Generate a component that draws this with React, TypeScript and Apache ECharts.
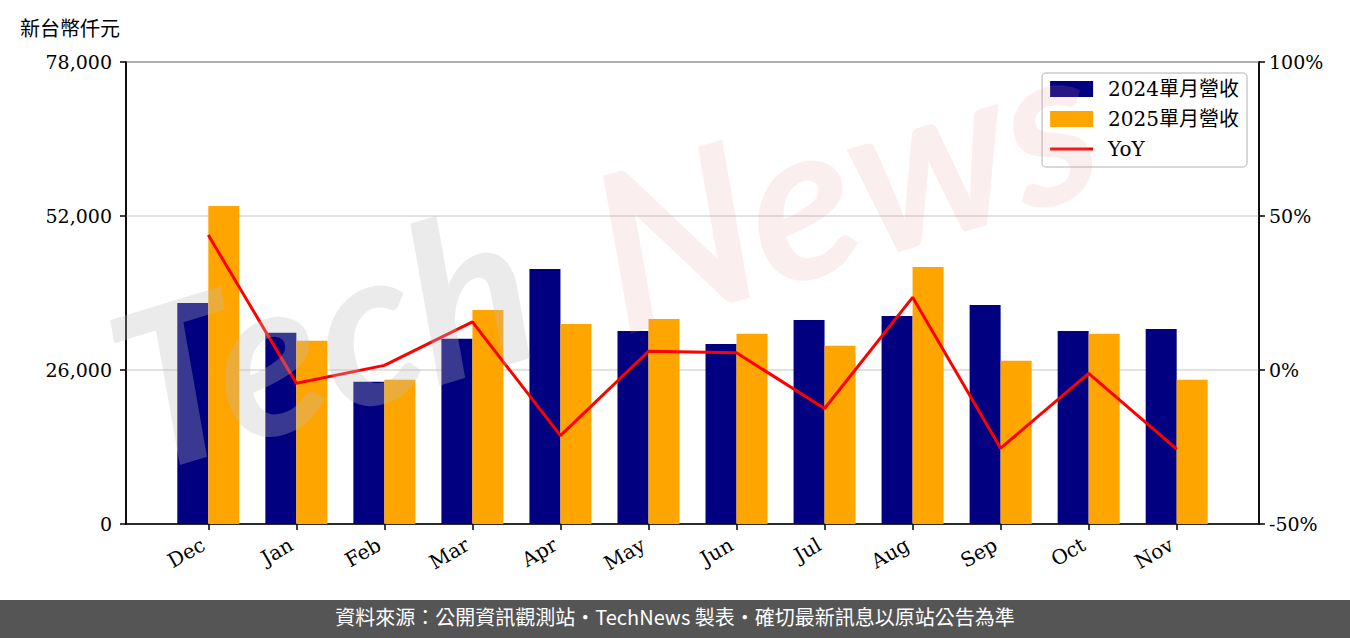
import React, { useEffect, useRef } from "react";
import * as echarts from "echarts";

const months = ["Dec", "Jan", "Feb", "Mar", "Apr", "May", "Jun", "Jul", "Aug", "Sep", "Oct", "Nov"];
const rev2024 = [37320, 32270, 24010, 31260, 43050, 32600, 30410, 34460, 35130, 36990, 32600, 32940];
const rev2025 = [53670, 30920, 24350, 36140, 33780, 34630, 32100, 30080, 43390, 27550, 32100, 24350];
const yoy = [43.8, -4.3, 1.5, 15.6, -21.3, 6.1, 5.6, -12.5, 23.6, -25.4, -1.1, -25.7];
const leftTicks = [0, 26000, 52000, 78000];
const rightTicks = [-50, 0, 50, 100];

const serif = "'DejaVu Serif', 'Noto Sans CJK TC', serif";

export default function App() {
  const ref = useRef<HTMLDivElement>(null);
  useEffect(() => {
    if (!ref.current) return;
    const chart = echarts.init(ref.current, null, { renderer: "svg" });
    const idx = months.map((_, i) => i);
    chart.setOption({
      animation: false,
      backgroundColor: "#ffffff",
      textStyle: { fontFamily: serif },
      grid: {
        left: 126, right: 91, top: 62, bottom: 114,
        show: true, borderColor: "#000", borderWidth: 1.5, backgroundColor: "transparent",
      },
      legend: {
        orient: "vertical",
        right: 103,
        top: 73,
        padding: [6, 8, 8, 8],
        itemWidth: 43,
        itemHeight: 16,
        itemGap: 10,
        symbolKeepAspect: true,
        borderColor: "#cccccc",
        borderWidth: 1.5,
        borderRadius: 4,
        backgroundColor: "rgba(255,255,255,0.8)",
        textStyle: { fontFamily: serif, fontSize: 20, color: "#000", padding: [0, 0, 0, 10] },
        data: [
          { name: "2024單月營收", icon: "rect" },
          { name: "2025單月營收", icon: "rect" },
          { name: "YoY", icon: "path://M0,0H43V3H0Z" },
        ],
      },
      xAxis: {
        type: "value",
        min: -0.935,
        max: 11.935,
        splitLine: { show: false },
        axisLine: { show: true, onZero: false, lineStyle: { color: "#000", width: 1.5 } },
        axisTick: { show: true, length: 6, lineStyle: { color: "#000", width: 1.5 }, customValues: idx },
        axisLabel: {
          customValues: idx,
          rotate: 30,
          fontSize: 20,
          color: "#000",
          fontFamily: serif,
          margin: 16,
          padding: [0, 6, 0, 0],
          formatter: (v: number) => months[Math.round(v)] ?? "",
        },
      },
      yAxis: [
        {
          type: "value",
          min: leftTicks[0],
          max: leftTicks[leftTicks.length - 1],
          interval: 26000,
          axisLine: { show: true, onZero: false, lineStyle: { color: "#000", width: 1.5 } },
          axisTick: { show: true, length: 6, lineStyle: { color: "#000", width: 1.5 } },
          axisLabel: {
            fontSize: 19,
            color: "#000",
            fontFamily: serif,
            margin: 14,
            formatter: (v: number) => v.toLocaleString("en-US"),
          },
          splitLine: { show: true, lineStyle: { color: "#d9d9d9", width: 1.5 } },
        },
        {
          type: "value",
          min: rightTicks[0],
          max: rightTicks[rightTicks.length - 1],
          interval: 50,
          axisLine: { show: true, onZero: false, lineStyle: { color: "#000", width: 1.5 } },
          axisTick: { show: true, length: 6, lineStyle: { color: "#000", width: 1.5 } },
          axisLabel: { fontSize: 19, color: "#000", fontFamily: serif, margin: 10, formatter: (v: number) => `${v}%` },
          splitLine: { show: false },
        },
      ],
      series: [
        {
          name: "2024單月營收",
          type: "bar",
          barWidth: 31,
          barGap: "0%",
          itemStyle: { color: "#000080" },
          data: rev2024.map((v, i) => [i, v]),
        },
        {
          name: "2025單月營收",
          type: "bar",
          barWidth: 31,
          barGap: "0%",
          itemStyle: { color: "#ffa500" },
          data: rev2025.map((v, i) => [i, v]),
        },
        {
          name: "YoY",
          type: "line",
          yAxisIndex: 1,
          symbol: "none",
          lineStyle: { color: "#ff0000", width: 3 },
          itemStyle: { color: "#ff0000" },
          data: yoy.map((v, i) => [i, v]),
          z: 5,
        },
      ],
      graphic: [
        {
          type: "text",
          left: 20,
          top: 17,
          style: {
            text: "新台幣仟元",
            font: "20px 'Noto Sans CJK TC', sans-serif",
            fill: "#000",
          },
        },
        {
          type: "text",
          x: 150,
          y: 500,
          rotation: (17 * Math.PI) / 180,
          z: 10,
          silent: true,
          style: {
            text: "Tech",
            font: "italic bold 220px Lato, 'Noto Sans', sans-serif",
            fill: "rgba(190,190,190,0.3)",
            textVerticalAlign: "bottom",
          },
        },
        {
          type: "text",
          x: 630,
          y: 360,
          rotation: (17 * Math.PI) / 180,
          z: 10,
          silent: true,
          style: {
            text: "News",
            font: "italic bold 220px Lato, 'Noto Sans', sans-serif",
            fill: "rgba(230,150,150,0.16)",
            textVerticalAlign: "bottom",
          },
        },
        {
          type: "rect",
          left: 0,
          top: 600,
          z: 20,
          shape: { width: 1350, height: 38 },
          style: { fill: "#555555" },
        },
        {
          type: "text",
          left: "center",
          top: 606,
          z: 21,
          style: {
            text: "資料來源：公開資訊觀測站・TechNews 製表・確切最新訊息以原站公告為準",
            font: "20px 'Noto Sans CJK TC', 'Noto Sans', sans-serif",
            fill: "#ffffff",
          },
        },
      ],
    });
    return () => chart.dispose();
  }, []);
  return <div ref={ref} style={{ position: "fixed", left: 0, top: 0, width: 1350, height: 638 }} />;
}
